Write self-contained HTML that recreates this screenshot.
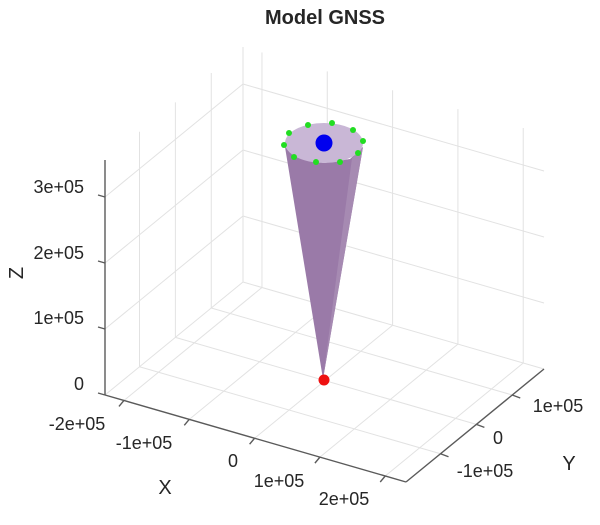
<!DOCTYPE html>
<html><head><meta charset="utf-8"><style>
body{margin:0;background:#fff;width:600px;height:525px;overflow:hidden}
svg{display:block}
text{font-family:"Liberation Sans",sans-serif;fill:#262626}
</style></head><body>
<svg id="s" width="600" height="525" viewBox="0 0 600 525" xmlns="http://www.w3.org/2000/svg">
<text x="325" y="24" text-anchor="middle" font-size="20" font-weight="bold" fill="#000">Model GNSS</text>
<g id="grid" stroke="#e2e2e2" stroke-width="1" fill="none"></g>
<g id="axes" stroke="#5a5a5a" stroke-width="1.4" fill="none"></g>
<g font-size="18">
<text x="84" y="193" text-anchor="end">3e+05</text>
<text x="84" y="259" text-anchor="end">2e+05</text>
<text x="84" y="324" text-anchor="end">1e+05</text>
<text x="84" y="390" text-anchor="end">0</text>
<text x="17" y="273" text-anchor="middle" dominant-baseline="central" font-size="20" transform="rotate(-90 17 273)">Z</text>
<text x="77" y="430" text-anchor="middle">-2e+05</text>
<text x="144" y="449" text-anchor="middle">-1e+05</text>
<text x="233" y="467" text-anchor="middle">0</text>
<text x="279" y="487" text-anchor="middle">1e+05</text>
<text x="344" y="505" text-anchor="middle">2e+05</text>
<text x="165" y="494" text-anchor="middle" font-size="20">X</text>
<text x="558" y="412" text-anchor="middle">1e+05</text>
<text x="498" y="444" text-anchor="middle">0</text>
<text x="485" y="477" text-anchor="middle">-1e+05</text>
<text x="569" y="470" text-anchor="middle" font-size="20">Y</text>
</g>
<polygon points="323,379 285,147 300,158 324,163 350,159 363,147" fill="#9a7aa8"/>
<polygon points="323,379 352,158 363,147" fill="#a68ab2"/>
<ellipse cx="324" cy="143" rx="39" ry="20" fill="#c9b7d6"/>
<circle cx="324" cy="143" r="8.5" fill="#0000ee"/>
<g fill="#22dd22">
<circle cx="308" cy="125" r="3"/><circle cx="332" cy="123" r="3"/><circle cx="353" cy="130" r="3"/>
<circle cx="363" cy="141" r="3"/><circle cx="358" cy="153" r="3"/><circle cx="340" cy="162" r="3"/>
<circle cx="316" cy="162" r="3"/><circle cx="294" cy="157" r="3"/><circle cx="284" cy="145" r="3"/>
<circle cx="289" cy="133" r="3"/>
</g>
<circle cx="324" cy="380" r="5.5" fill="#ee1111"/>
</svg>
<script>
var A=[105,395],B=[406,482],C=[544,369],D=[243,282],U=66;
function L(g,p,q){var e=document.createElementNS("http://www.w3.org/2000/svg","line");
e.setAttribute("x1",p[0]);e.setAttribute("y1",p[1]);e.setAttribute("x2",q[0]);e.setAttribute("y2",q[1]);document.getElementById(g).appendChild(e);}
function lerp(p,q,t){return[p[0]+(q[0]-p[0])*t,p[1]+(q[1]-p[1])*t];}
function up(p,h){return[p[0],p[1]-h];}
var H=235;
var xt=[0.063,0.28,0.497,0.714,0.931], yt=[0.25,0.51,0.77];
xt.forEach(function(t){L("grid",lerp(A,B,t),lerp(D,C,t));L("grid",lerp(D,C,t),up(lerp(D,C,t),H));});
yt.forEach(function(t){L("grid",lerp(B,C,t),lerp(A,D,t));L("grid",lerp(A,D,t),up(lerp(A,D,t),H));});
for(var k=1;k<=3;k++){var h=U*k;L("grid",up(A,h),up(D,h));L("grid",up(D,h),up(C,h));}
L("grid",D,up(D,H));L("grid",D,C);L("grid",A,D);
L("axes",A,B);L("axes",B,C);L("axes",A,up(A,H));
for(var k=0;k<=3;k++){var p=up(A,U*k);L("axes",p,[p[0]-7,p[1]-2]);}
xt.forEach(function(t){var p=lerp(A,B,t);L("axes",p,[p[0]-5,p[1]+6]);});
yt.forEach(function(t){var p=lerp(B,C,t);L("axes",p,[p[0]+8,p[1]+3]);});
</script>
</body></html>
